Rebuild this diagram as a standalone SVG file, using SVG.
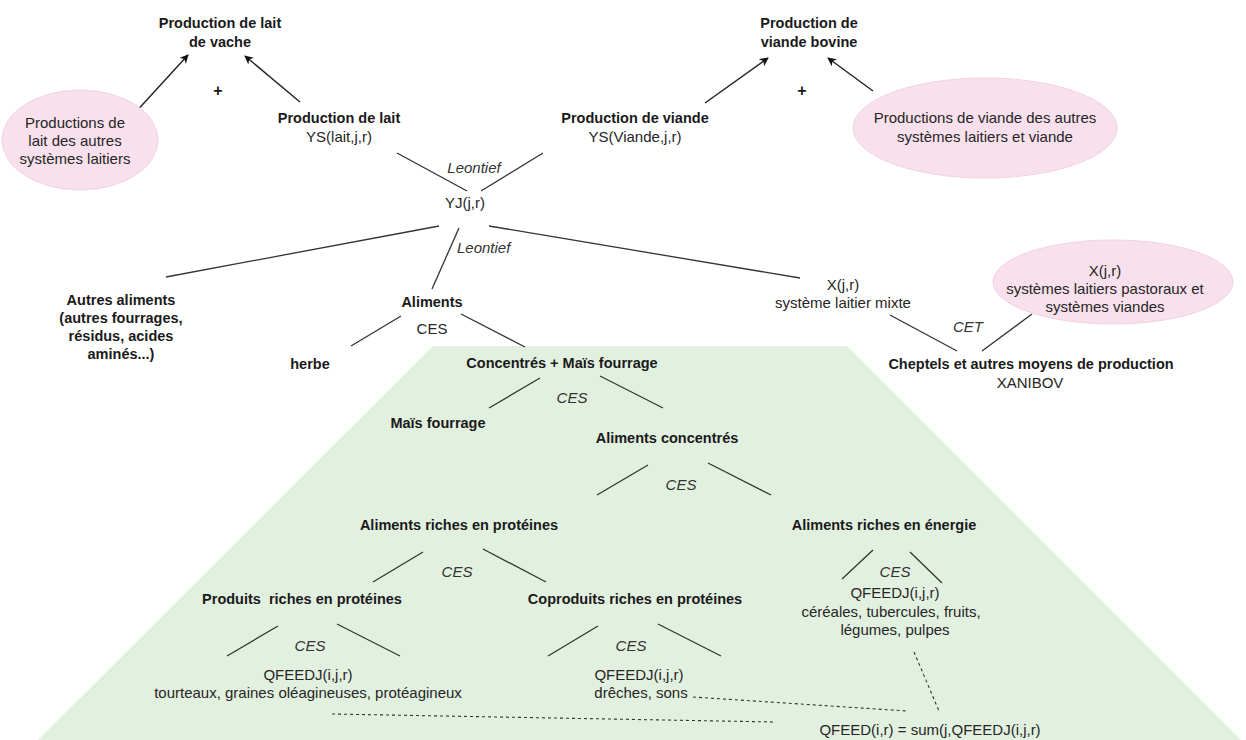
<svg xmlns="http://www.w3.org/2000/svg" width="1246" height="740" viewBox="0 0 1246 740">
<defs>
<style>
text{font-family:"Liberation Sans",Arial,sans-serif;fill:#1a1a1a;text-anchor:middle;font-size:15px}
.b{font-weight:bold;font-size:14.5px}
.i{font-style:italic;font-size:15px;fill:#333}
.n{fill:#262626}
.ln{stroke:#333;stroke-width:1.3;fill:none}
.ds{stroke:#333;stroke-width:1.1;fill:none;stroke-dasharray:3 3}
.ar{stroke:#222;stroke-width:1.4;fill:none;marker-end:url(#ah)}
.pk{fill:#f8e1ec;stroke:#f2d2e2;stroke-width:1}
</style>
<marker id="ah" viewBox="0 0 10 10" refX="9" refY="5" markerWidth="9" markerHeight="9" markerUnits="userSpaceOnUse" orient="auto">
<path d="M0,0 L10,5 L0,10 L3,5 z" fill="#111"/>
</marker>
</defs>
<rect width="1246" height="740" fill="#fff"/>
<polygon id="green-area" points="433,346 847,346 1241,740 38,740" fill="#e2f0e0"/>

<g id="connectors">
<line class="ar" x1="133" y1="115" x2="188" y2="55"/>
<line class="ar" x1="300" y1="102" x2="245" y2="56"/>
<line class="ar" x1="705" y1="103" x2="768" y2="58"/>
<line class="ar" x1="873" y1="91" x2="828" y2="58"/>
<line class="ln" x1="397" y1="153" x2="467" y2="191"/>
<line class="ln" x1="481" y1="191" x2="543" y2="153"/>
<line class="ln" x1="439" y1="226" x2="166" y2="277"/>
<line class="ln" x1="459" y1="228" x2="432" y2="289"/>
<line class="ln" x1="489" y1="226" x2="800" y2="278"/>
<line class="ln" x1="401" y1="316" x2="351" y2="346"/>
<line class="ln" x1="461" y1="314" x2="525" y2="347"/>
<line class="ln" x1="890" y1="315" x2="957" y2="351"/>
<line class="ln" x1="1032" y1="314" x2="982" y2="351"/>
<line class="ln" x1="540" y1="378" x2="489" y2="408"/>
<line class="ln" x1="600" y1="376" x2="663" y2="408"/>
<line class="ln" x1="648" y1="465" x2="597" y2="495"/>
<line class="ln" x1="708" y1="463" x2="771" y2="495"/>
<line class="ln" x1="423" y1="552" x2="373" y2="582"/>
<line class="ln" x1="483" y1="549" x2="546" y2="582"/>
<line class="ln" x1="278" y1="626" x2="227" y2="656"/>
<line class="ln" x1="337" y1="624" x2="400" y2="656"/>
<line class="ln" x1="598" y1="626" x2="548" y2="656"/>
<line class="ln" x1="658" y1="624" x2="721" y2="656"/>
<line class="ln" x1="873" y1="550" x2="842" y2="579"/>
<line class="ln" x1="910" y1="552" x2="942" y2="583"/>
<line class="ds" x1="332" y1="714" x2="775" y2="722"/>
<line class="ds" x1="693" y1="697" x2="907" y2="711"/>
<line class="ds" x1="914" y1="652" x2="939" y2="711"/>
</g>

<g id="lait-vache"><text class="b" x="220" y="28">Production de lait</text><text class="b" x="220" y="47">de vache</text></g>
<g id="plus-1"><text class="b" x="218" y="96" style="font-size:16px">+</text></g>
<g id="autres-lait"><ellipse class="pk" cx="80" cy="140" rx="78" ry="50"/><text class="n" x="75" y="128">Productions de</text><text class="n" x="75" y="146">lait des autres</text><text class="n" x="75" y="164">systèmes laitiers</text></g>
<g id="prod-lait"><text class="b" x="339" y="123">Production de lait</text><text class="n" x="339" y="142">YS(lait,j,r)</text></g>
<g id="prod-viande"><text class="b" x="635" y="123">Production de viande</text><text class="n" x="635" y="142">YS(Viande,j,r)</text></g>
<g id="viande-bovine"><text class="b" x="809" y="28">Production de</text><text class="b" x="809" y="47">viande bovine</text></g>
<g id="plus-2"><text class="b" x="802" y="96" style="font-size:16px">+</text></g>
<g id="autres-viande"><ellipse class="pk" cx="985" cy="128" rx="132" ry="50"/><text class="n" x="985" y="123">Productions de viande des autres</text><text class="n" x="985" y="142">systèmes laitiers et viande</text></g>
<g id="leontief-1"><text class="i" x="474" y="173">Leontief</text></g>
<g id="yj"><text class="n" x="465" y="208">YJ(j,r)</text></g>
<g id="leontief-2"><text class="i" x="457" y="253" style="text-anchor:start">Leontief</text></g>
<g id="autres-aliments"><text class="b" x="121" y="305">Autres aliments</text><text class="b" x="121" y="323">(autres fourrages,</text><text class="b" x="121" y="341">résidus, acides</text><text class="b" x="121" y="359">aminés...)</text></g>
<g id="aliments"><text class="b" x="432" y="307">Aliments</text><text class="n" x="432" y="334">CES</text></g>
<g id="herbe"><text class="b" x="310" y="369">herbe</text></g>
<g id="x-mixte"><text class="n" x="843" y="290">X(j,r)</text><text class="n" x="843" y="308">système laitier mixte</text></g>
<g id="x-pastoraux"><ellipse class="pk" cx="1113" cy="282" rx="120" ry="42"/><text class="n" x="1105" y="276">X(j,r)</text><text class="n" x="1105" y="294">systèmes laitiers pastoraux et</text><text class="n" x="1105" y="312">systèmes viandes</text></g>
<g id="cet"><text class="i" x="968" y="332">CET</text></g>
<g id="cheptels"><text class="b" x="1031" y="369">Cheptels et autres moyens de production</text><text class="n" x="1030" y="388">XANIBOV</text></g>
<g id="concentres-mais"><text class="b" x="562" y="368">Concentrés + Maïs fourrage</text><text class="i" x="572" y="403">CES</text></g>
<g id="mais-fourrage"><text class="b" x="438" y="428">Maïs fourrage</text></g>
<g id="aliments-concentres"><text class="b" x="667" y="443">Aliments concentrés</text><text class="i" x="681" y="490">CES</text></g>
<g id="riches-proteines"><text class="b" x="459" y="530">Aliments riches en protéines</text><text class="i" x="457" y="577">CES</text></g>
<g id="riches-energie"><text class="b" x="884" y="530">Aliments riches en énergie</text><text class="i" x="895" y="577">CES</text><text class="n" x="895" y="598">QFEEDJ(i,j,r)</text><text class="n" x="891" y="617">céréales, tubercules, fruits,</text><text class="n" x="895" y="635">légumes, pulpes</text></g>
<g id="produits-proteines"><text class="b" x="302" y="604" xml:space="preserve">Produits  riches en protéines</text><text class="i" x="310" y="651">CES</text><text class="n" x="308" y="680">QFEEDJ(i,j,r)</text><text class="n" x="308" y="698">tourteaux, graines oléagineuses, protéagineux</text></g>
<g id="coproduits-proteines"><text class="b" x="635" y="604">Coproduits riches en protéines</text><text class="i" x="631" y="651">CES</text><text class="n" x="639" y="680">QFEEDJ(i,j,r)</text><text class="n" x="641" y="698">drêches, sons</text></g>
<g id="qfeed"><text class="n" x="930" y="735">QFEED(i,r) = sum(j,QFEEDJ(i,j,r)</text></g>
</svg>
